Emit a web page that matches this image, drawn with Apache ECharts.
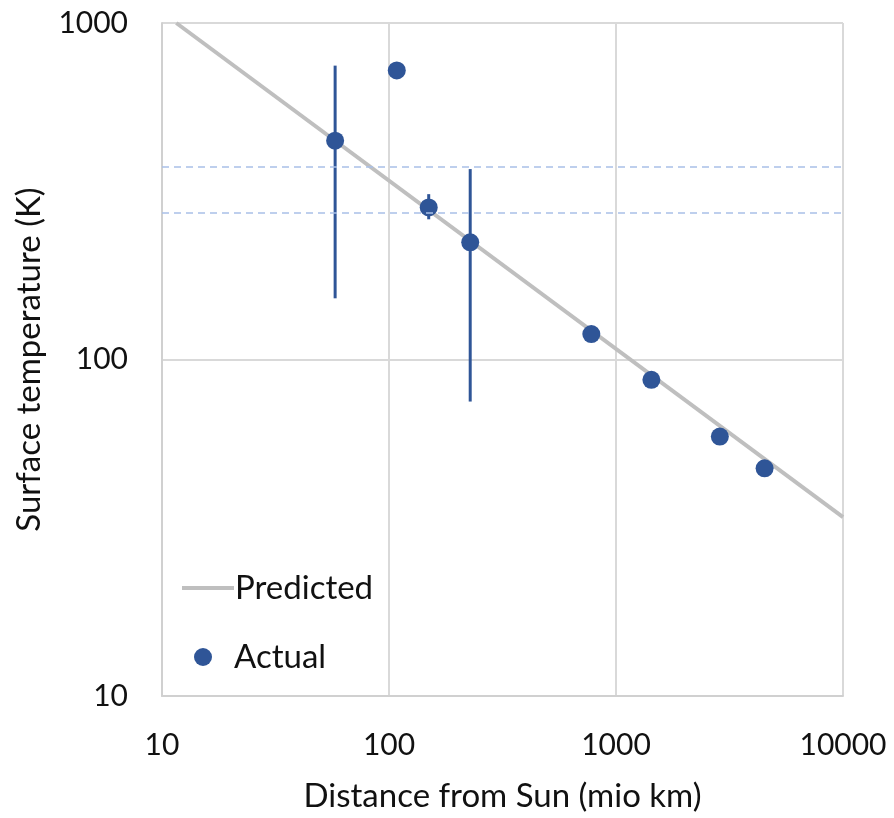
<!DOCTYPE html>
<html>
<head>
	<meta charset="utf-8">
	<title>Surface temperature vs distance from Sun</title>
	<style>
		html, body { margin: 0; padding: 0; background: #fff; }
		#chart { width: 894px; height: 818px; }
	</style>
</head>
<body>
<script type="text/javascript" src="https://cdn.jsdelivr.net/npm/echarts@6/dist/echarts.min.js"></script>
<div id="chart"></div>
<script>
// planets, distance in mio km, surface temperature in K
var planets = ['Mercury', 'Venus', 'Earth', 'Mars', 'Jupiter', 'Saturn', 'Uranus', 'Neptune'];
var distance = [57.9, 108.2, 149.6, 227.9, 778.5, 1432, 2867, 4515];
var temperature = [447, 723, 283, 223, 119, 87, 59, 47.5];
// min / max range (only where the picture shows a bar)
var tempLow = [152, null, 261, 75, null, null, null, null];
var tempHigh = [747, null, 310, 368, null, null, null, null];
// predicted line, ends of the fit
var predDistance = [11.56, 10000];
var predTemperature = [1000, 34];
// water freezing / boiling
var refTemps = [273, 373];

var FONT = 'Lato';
var blue = '#2f5597';
var txt = '#111';

var actualData = [];
var errData = [];
for (var i = 0; i < planets.length; i++) {
    actualData.push([distance[i], temperature[i], planets[i]]);
    if (tempLow[i] != null) {
        errData.push([distance[i], tempLow[i], tempHigh[i]]);
    }
}
var predData = [];
for (var j = 0; j < predDistance.length; j++) {
    predData.push([predDistance[j], predTemperature[j]]);
}

function plain(v) { return String(v); }

var myChart = echarts.init(document.getElementById('chart'));
var option = {
    animation: false,
    backgroundColor: '#fff',
    textStyle: { fontFamily: FONT },
    grid: { left: 162, right: 51, top: 23, bottom: 117 },
    legend: [{
        orient: 'vertical',
        left: 177,
        top: 565,
        itemWidth: 52,
        itemHeight: 4,
        icon: 'rect',
        data: ['Predicted'],
        textStyle: { fontFamily: FONT, fontSize: 33, color: txt, lineHeight: 36, padding: [0, 0, 0, -4] }
    }, {
        orient: 'vertical',
        left: 189,
        top: 634,
        itemWidth: 18,
        itemHeight: 18,
        icon: 'circle',
        data: ['Actual'],
        textStyle: { fontFamily: FONT, fontSize: 33, color: txt, lineHeight: 36, padding: [0, 0, 0, 17] }
    }],
    xAxis: {
        type: 'log',
        logBase: 10,
        min: 10,
        max: 10000,
        name: 'Distance from Sun (mio km)',
        nameLocation: 'middle',
        nameGap: 84,
        nameTextStyle: { fontFamily: FONT, fontSize: 33, color: txt },
        axisLine: { show: true, lineStyle: { color: '#d0d0d0', width: 2 } },
        axisTick: { show: false },
        axisLabel: { fontFamily: FONT, fontSize: 30, color: txt, margin: 34, formatter: plain },
        splitLine: { show: true, lineStyle: { color: '#d9d9d9', width: 2 } }
    },
    yAxis: {
        type: 'log',
        logBase: 10,
        min: 10,
        max: 1000,
        name: 'Surface temperature (K)',
        nameLocation: 'middle',
        nameGap: 116,
        nameTextStyle: { fontFamily: FONT, fontSize: 33, color: txt },
        axisLine: { show: true, lineStyle: { color: '#d0d0d0', width: 2 } },
        axisTick: { show: false },
        axisLabel: { fontFamily: FONT, fontSize: 30, color: txt, margin: 34, formatter: plain },
        splitLine: { show: true, lineStyle: { color: '#d9d9d9', width: 2 } }
    },
    series: [
        {
            name: 'Predicted',
            type: 'line',
            data: predData,
            symbol: 'none',
            z: 2,
            lineStyle: { color: '#bfbfbf', width: 4 },
            itemStyle: { color: '#bfbfbf' },
            markLine: {
                silent: true,
                symbol: 'none',
                label: { show: false },
                lineStyle: { color: '#a9c0e8', width: 1.5, type: [7, 5] },
                data: refTemps.map(function (t) { return { yAxis: t }; })
            }
        },
        {
            name: 'range',
            type: 'custom',
            z: 3,
            data: errData,
            renderItem: function (params, api) {
                var lo = api.coord([api.value(0), api.value(1)]);
                var hi = api.coord([api.value(0), api.value(2)]);
                return {
                    type: 'line',
                    shape: { x1: lo[0], y1: lo[1], x2: hi[0], y2: hi[1] },
                    style: { stroke: blue, lineWidth: 3 }
                };
            }
        },
        {
            name: 'Actual',
            type: 'scatter',
            z: 4,
            data: actualData,
            symbol: 'circle',
            symbolSize: 18,
            itemStyle: { color: blue, opacity: 1 }
        }
    ]
};
myChart.setOption(option);
</script>
</body>
</html>
